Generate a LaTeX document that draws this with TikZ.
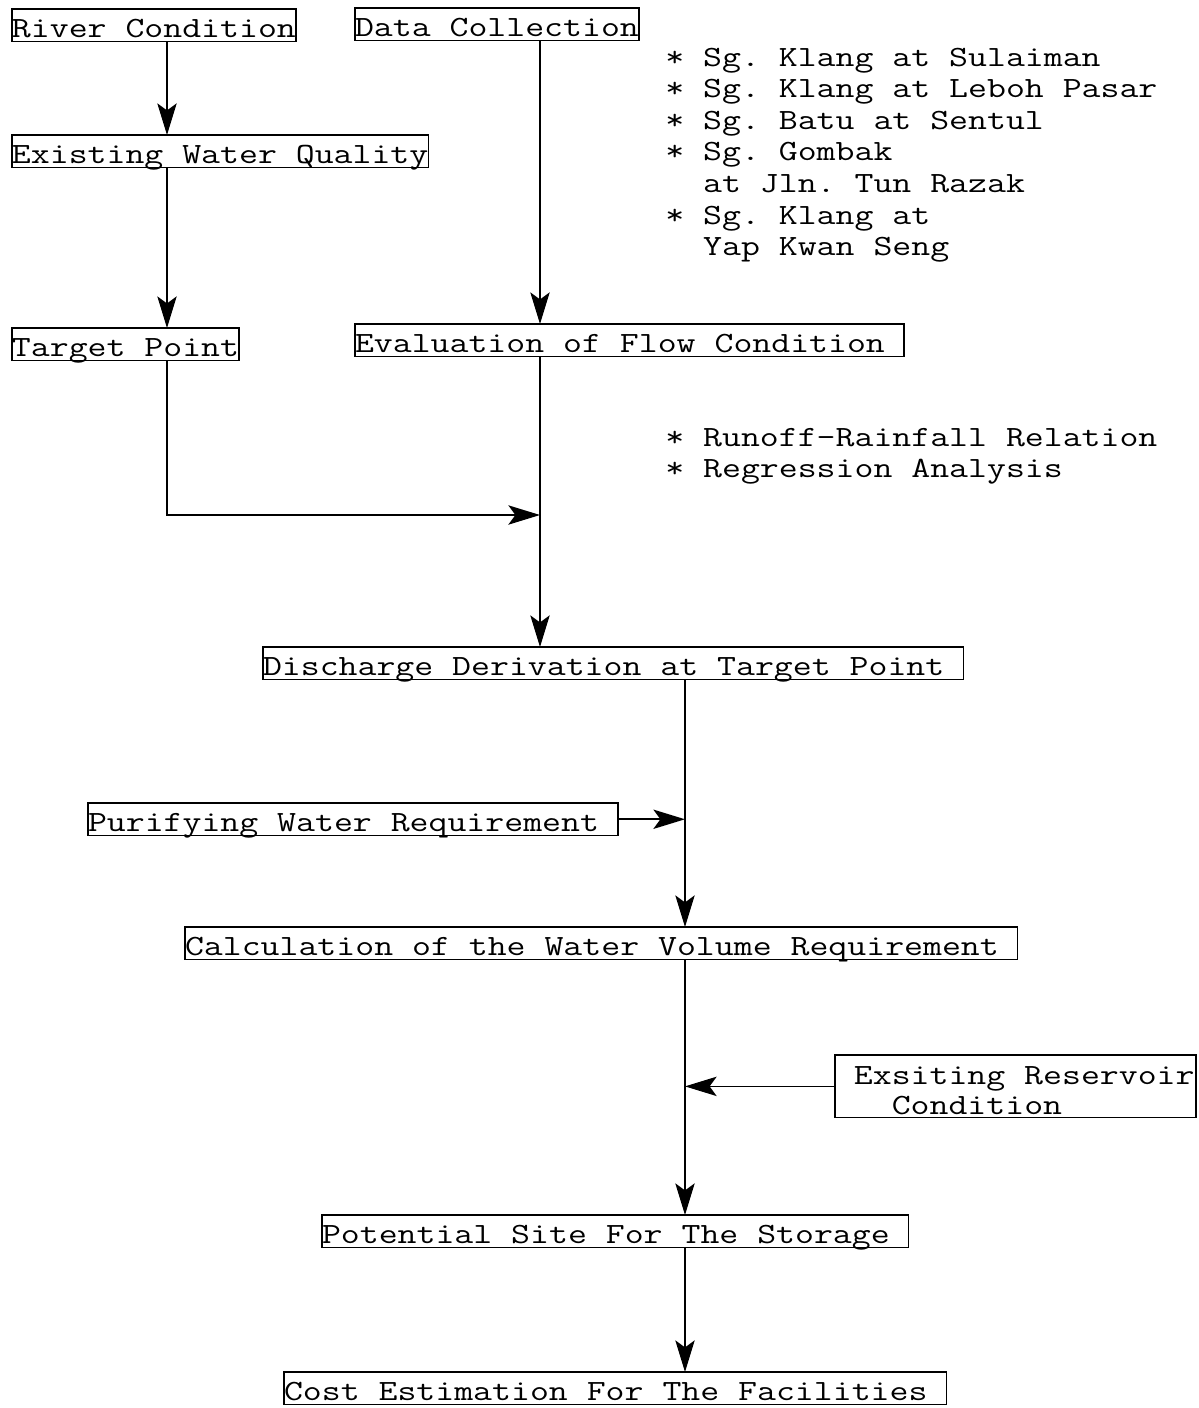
\documentclass[tikz,border=0pt]{standalone}
\usepackage{fontspec}
% stretch Latin Modern Mono so that one character is 10.77pt wide
\newfontfamily\probefont{Latin Modern Mono}
\newlength\probewd
\settowidth\probewd{\probefont\fontsize{16.7}{18}\selectfont M}
\edef\stretchfactor{\fpeval{round(10.77pt/\probewd,4)}}
\edef\loadmain{\noexpand\setmainfont{Latin Modern Mono}[FakeStretch=\stretchfactor]}
\loadmain
\newcommand\typefont{\fontsize{16.7}{18}\selectfont\fontdimen2\font=10.77pt\fontdimen3\font=0pt\fontdimen4\font=0pt\relax}
\newcommand\pairfont{\fontsize{16.7}{17}\selectfont\fontdimen2\font=10.77pt\fontdimen3\font=0pt\fontdimen4\font=0pt\relax}
\newcommand\fixspace{\spaceskip=10.77pt\xspaceskip=10.77pt\relax}
\usepackage{tikz}
\usetikzlibrary{arrows.meta, calc, positioning}
\tikzstyle{stage} = [rectangle, draw=black, line width=0.8pt, inner sep=0pt, outer sep=0pt, text height=16.2pt, text depth=2.3pt, anchor=north west]
\tikzstyle{note} = [inner sep=0pt, align=left, text width=10.2cm, anchor=base west]
\tikzset{
	FLOW/.style={line width=0.9pt, arrows={-Stealth[length=18pt, width=11pt, inset=4pt]}}
}
\begin{document}
\frenchspacing
\begin{tikzpicture}[font=\typefont]
					\useasboundingbox (0,0) rectangle (23.98,-28.16);
					\node (river) [stage] at (0.24,-0.18) {River Condition};
					\node (data) [stage] at (7.10,-0.16) {Data Collection};
					\node (quality) [stage, below = 1.87cm of river.south west, anchor=north west] {Existing Water Quality};
					\node (target) [stage, below = 3.21cm of quality.south west, anchor=north west] {Target Point};
					\node (eval) [stage, below = 5.67cm of data.south west, anchor=north west] {Evaluation of Flow Condition\hphantom{x}};
					\node (discharge) [stage] at (5.26,-12.94) {Discharge Derivation at Target Point\hphantom{x}};
					\node (purify) [stage] at (1.76,-16.06) {Purifying Water Requirement\hphantom{x}};
					\node (calc) [stage] at (3.70,-18.54) {Calculation of the Water Volume Requirement\hphantom{x}};
					\node (reservoir) [stage, align=left, text width=7.22cm, text height=17pt, text depth=18.7pt, font=\pairfont] at (16.70,-21.10) {\fixspace\mbox{\hphantom{x}Exsiting Reservoir}\\\hphantom{xxx}Condition};
					\node (potential) [stage] at (6.44,-24.30) {Potential Site For The Storage\hphantom{x}};
					\node (cost) [stage] at (5.68,-27.44) {Cost Estimation For The Facilities\hphantom{x}};
					\node (gauges) [note] at (13.30,-1.32) {\fixspace * Sg. Klang at Sulaiman\\{}* Sg. Klang at Leboh Pasar\\{}* Sg. Batu at Sentul\\{}* Sg. Gombak\\\hphantom{xx}at Jln. Tun Razak\\{}* Sg. Klang at\\\hphantom{xx}Yap Kwan Seng};
					\node (methods) [note] at (13.30,-8.92) {\fixspace * Runoff-Rainfall Relation\\{}* Regression Analysis};
					\coordinate (leftcol) at (3.34,0);
					\coordinate (midcol) at (10.80,0);
					\coordinate (stemcol) at (13.70,0);
					\coordinate (join) at (10.80,-10.30);
					\draw [FLOW] (river.south -| leftcol) -- (quality.north -| leftcol);
					\draw [FLOW] (quality.south -| leftcol) -- (target.north -| leftcol);
					\draw [FLOW] (data.south -| midcol) -- (eval.north -| midcol);
					\draw [FLOW] (target.south -| leftcol) |- (join);
					\draw [FLOW] (eval.south -| midcol) -- (discharge.north -| midcol);
					\draw [FLOW] (discharge.south -| stemcol) -- (calc.north -| stemcol);
					\draw [FLOW] (purify.east) -- (purify.east -| stemcol);
					\draw [FLOW] (calc.south -| stemcol) -- (potential.north -| stemcol);
					\draw [FLOW] (reservoir.west) -- (reservoir.west -| stemcol);
					\draw [FLOW] (potential.south -| stemcol) -- (cost.north -| stemcol);
				\end{tikzpicture}
\end{document}
